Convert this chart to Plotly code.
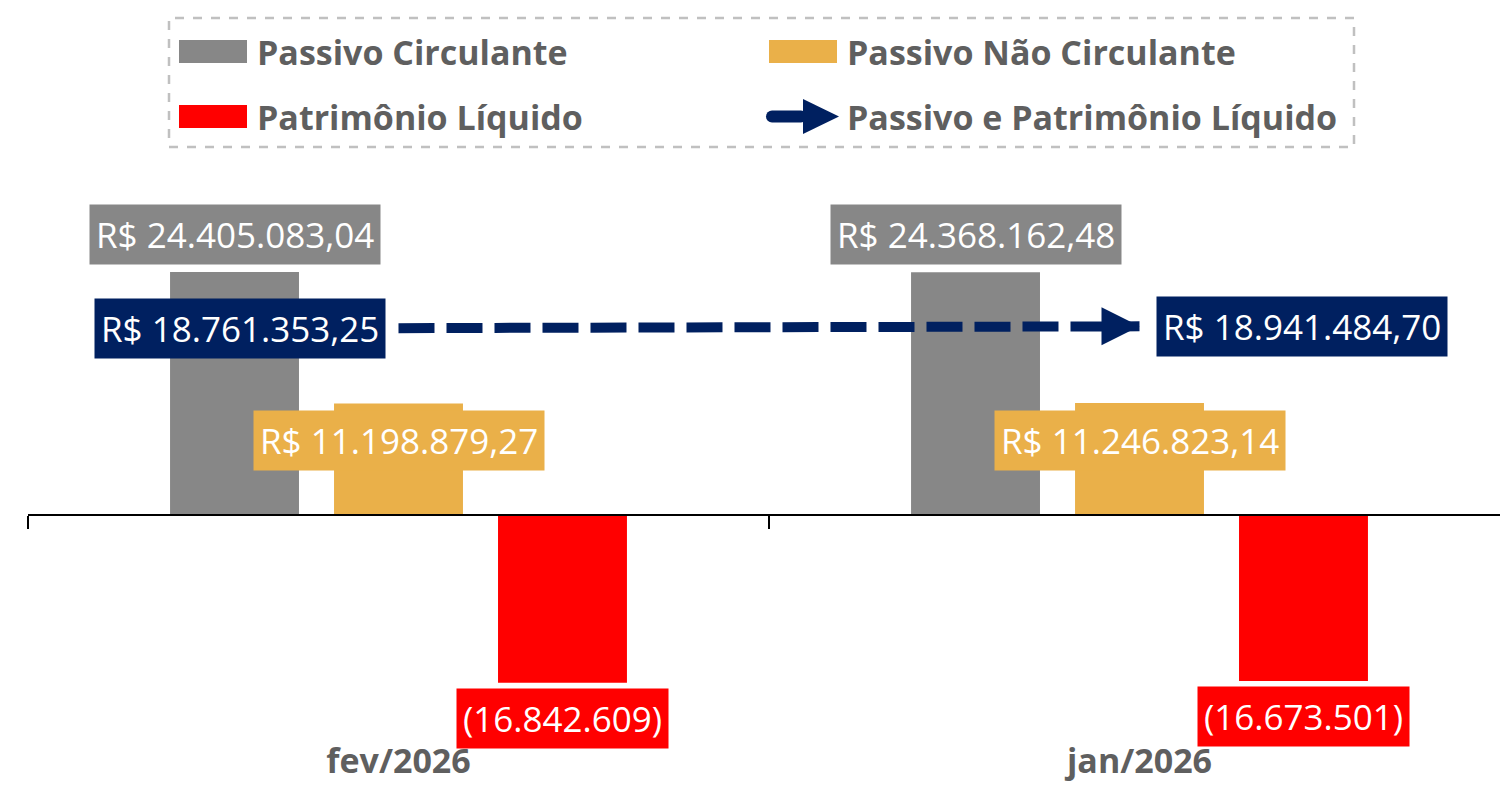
import plotly.graph_objects as go

# ---------------- data ----------------
categories = ["fev/2026", "jan/2026"]
passivo_circulante = [24405083.04, 24368162.48]
passivo_nao_circulante = [11198879.27, 11246823.14]
patrimonio_liquido = [-16842609.06, -16673500.92]
passivo_e_pl = [18761353.25, 18941484.70]

series_names = ["Passivo Circulante", "Passivo Não Circulante",
                "Patrimônio Líquido", "Passivo e Patrimônio Líquido"]

# ---------------- style ----------------
GRAY = "#878787"
ORANGE = "#EAB049"
RED = "#FF0000"
NAVY = "#002060"
TEXT_GRAY = "#5F5F5F"
FONT = "Open Sans, sans-serif"

BAR_W = 0.174
STEP = 0.2213
Y_MIN, Y_MAX = -23.6e6, 34.64e6
X_MIN, X_MAX = -0.5, 1.4865


def brl(v):
    s = f"{abs(v):,.2f}".replace(",", "X").replace(".", ",").replace("X", ".")
    return "R$ " + s


def paren(v):
    s = f"{abs(v):,.0f}".replace(",", ".")
    return f"({s})" if v < 0 else s


fig = go.Figure()

bar_specs = [
    (series_names[0], passivo_circulante, GRAY, -STEP, "legend"),
    (series_names[1], passivo_nao_circulante, ORANGE, 0.0, "legend"),
    (series_names[2], patrimonio_liquido, RED, STEP, "legend2"),
]
for name, vals, col, center, leg in bar_specs:
    fig.add_trace(go.Bar(
        x=categories, y=vals, name=name,
        marker=dict(color=col, line=dict(width=0)),
        width=BAR_W, offset=center - BAR_W / 2,
        hoverinfo="skip", legend=leg,
    ))

fig.add_trace(go.Scatter(
    x=categories, y=passivo_e_pl, name=series_names[3],
    mode="lines+markers",
    line=dict(color=NAVY, width=10, dash="36px,12px"),
    marker=dict(symbol=["circle", "arrow-right"], size=[1, 38],
                opacity=[0, 1], color=NAVY, line=dict(width=0)),
    hoverinfo="skip", legend="legend2",
))

# helper trace for the zero axis line with boundary ticks
fig.add_trace(go.Scatter(x=[X_MIN], y=[0], xaxis="x2", mode="markers",
                         marker=dict(opacity=0), showlegend=False,
                         hoverinfo="skip"))

# ---------------- data labels ----------------
ann = []
lab_font = dict(family=FONT, size=35, color="white")
PAD = 6
for i, v in enumerate(passivo_circulante):
    ann.append(dict(x=i - STEP, y=v, xref="x", yref="y", text=brl(v),
                    showarrow=False, yanchor="bottom", yshift=7,
                    bgcolor=GRAY, borderpad=PAD, font=lab_font))
for i, v in enumerate(passivo_nao_circulante):
    ann.append(dict(x=i, y=v, xref="x", yref="y", text=brl(v),
                    showarrow=False, yanchor="top", yshift=-7,
                    bgcolor=ORANGE, borderpad=PAD, font=lab_font))
for i, v in enumerate(patrimonio_liquido):
    ann.append(dict(x=i + STEP, y=v, xref="x", yref="y", text=paren(v),
                    showarrow=False, yanchor="top", yshift=-5,
                    bgcolor=RED, borderpad=PAD, font=lab_font))
for i, v in enumerate(passivo_e_pl):
    first = i == 0
    ann.append(dict(x=i, y=v, xref="x", yref="y", text=brl(v),
                    showarrow=False, yanchor="middle",
                    xanchor="right" if first else "left",
                    xshift=-13 if first else 16,
                    bgcolor=NAVY, borderpad=PAD, font=lab_font))

zero_pos = (0 - Y_MIN) / (Y_MAX - Y_MIN)

leg_common = dict(orientation="h", entrywidth=497, entrywidthmode="pixels",
                  itemwidth=78, xanchor="left", yanchor="middle",
                  bgcolor="rgba(0,0,0,0)", borderwidth=0,
                  font=dict(family=FONT, size=34, color=TEXT_GRAY, weight="bold"),
                  itemclick=False, itemdoubleclick=False)

fig.update_layout(
    width=1500, height=786,
    margin=dict(l=28, r=0, t=170, b=36, autoexpand=False),
    paper_bgcolor="white", plot_bgcolor="white",
    barmode="overlay",
    showlegend=True,
    legend=dict(leg_common, x=(169 - 28) / 1472, y=(750 - 52) / 580),
    legend2=dict(leg_common, x=(169 - 28) / 1472, y=(750 - 117) / 580),
    xaxis=dict(type="category", categoryorder="array", categoryarray=categories,
               range=[X_MIN, X_MAX], showline=False, ticks="", showgrid=False,
               zeroline=False, automargin=False, ticklabelstandoff=-12,
               tickfont=dict(family=FONT, size=34, color=TEXT_GRAY, weight="bold")),
    xaxis2=dict(overlaying="x", anchor="free", position=zero_pos, type="linear",
                range=[X_MIN, X_MAX], tickvals=[-0.5, 0.5, 1.5],
                ticks="outside", ticklen=13, tickwidth=2, tickcolor="black",
                showline=True, linewidth=2, linecolor="black", automargin=False,
                showticklabels=False, showgrid=False, zeroline=False),
    yaxis=dict(range=[Y_MIN, Y_MAX], showgrid=False, zeroline=False,
               showticklabels=False, showline=False, ticks="", automargin=False),
    annotations=ann,
    shapes=[dict(type="rect", xref="paper", yref="paper",
                 x0=(169 - 28) / 1472, x1=(1354 - 28) / 1472,
                 y0=(750 - 147) / 580, y1=(750 - 18) / 580,
                 line=dict(color="#C0C0C0", width=2.5, dash="dash"),
                 fillcolor="rgba(0,0,0,0)", layer="above")],
)

post = """
document.body.style.margin='0';
var gd=document.getElementById('{plot_id}');
function fixLegend(){
  gd.querySelectorAll('g.traces').forEach(function(t){
    var pt=t.querySelector('path.scatterpts');
    t.querySelectorAll('path').forEach(function(p){
      var d=p.getAttribute('d')||'';
      if(!p.classList.contains('scatterpts') && /H-6V-6H6Z/.test(d)){
        p.setAttribute('d','M34,11.5H-34V-11.5H34Z');
      }
    });
    var ln=t.querySelector('g.legendlines path');
    if(pt){
      pt.setAttribute('d','M0,-17.5L36,0L0,17.5Z');
      pt.style.opacity='1';
      if(ln){
        ln.setAttribute('d','M-31,0H-2');
        ln.setAttribute('transform', pt.getAttribute('transform')||'');
        ln.style.strokeWidth='12px';
        ln.style.strokeLinecap='round';
        ln.style.strokeDasharray='none';
      }
    }
  });
}
fixLegend();
gd.on('plotly_afterplot', fixLegend);
"""

fig.write_html("out.html", post_script=post,
               config={"displayModeBar": False, "staticPlot": True})
